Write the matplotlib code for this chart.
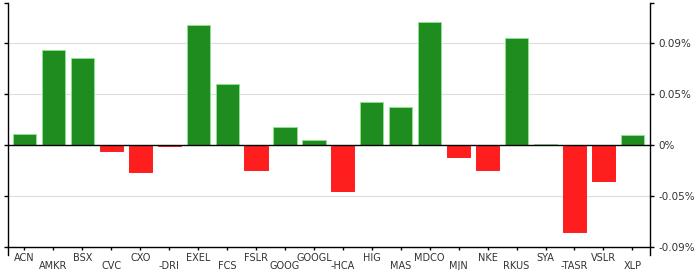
import matplotlib
matplotlib.use("Agg")
import matplotlib.pyplot as plt

tickers = ["ACN", "AMKR", "BSX", "CVC", "CXO", "-DRI", "EXEL", "FCS", "FSLR", "GOOG", "GOOGL",
           "-HCA", "HIG", "MAS", "MDCO", "MJN", "NKE", "RKUS", "SYA", "-TASR", "VSLR", "XLP"]
returns = [0.011, 0.0925, 0.0853, -0.0056, -0.027, -0.0015, 0.117, 0.060, -0.025, 0.018, 0.005,
           -0.0448, 0.0418, 0.0376, 0.120, -0.0118, -0.0242, 0.105, 0.001, -0.0856, -0.035, 0.0095]
ytick_vals = [-0.1, -0.05, 0, 0.05, 0.1]
ytick_labels = ["-0.09%", "-0.05%", "0%", "0.05%", "0.09%"]

green = "#1e8c1e"
red = "#ff1e1e"
text_col = "#333333"

fig = plt.figure(figsize=(7, 2.7), dpi=100)
ax = fig.add_axes([8 / 700, 15 / 270, 642 / 700, 252 / 270])

x = list(range(len(tickers)))
colors = [green if v >= 0 else red for v in returns]
edges = ["#8fe08f" if v >= 0 else red for v in returns]
ax.bar(x, returns, width=0.8, color=colors, edgecolor=edges, linewidth=0.7, zorder=3)

ax.set_xlim(-0.57, 21.61)
ax.set_ylim(-0.1078, 0.139)

for v in ytick_vals:
    if v != 0:
        ax.axhline(v, color="#dddddd", linewidth=0.8, zorder=1)
ax.axhline(0, color="black", linewidth=1.0, zorder=4)

# y axis: ticks on both sides, labels on the right only
ax.set_yticks(ytick_vals + [0.139])
ax.set_yticklabels(ytick_labels + [""])
ax.tick_params(axis="y", left=True, right=True, labelleft=False, labelright=True,
               direction="out", length=3, width=1, pad=3, labelsize=7.5, labelcolor=text_col)

# x axis: labels alternate between two rows
ax.spines["bottom"].set_position(("data", -0.1))
ax.set_xticks(x[0::2])
ax.set_xticklabels(tickers[0::2])
ax.set_xticks(x[1::2], minor=True)
ax.set_xticklabels(tickers[1::2], minor=True)
ax.tick_params(axis="x", which="major", direction="out", length=2, width=1, pad=2,
               labelsize=7, labelcolor=text_col)
ax.tick_params(axis="x", which="minor", direction="out", length=2, width=1, pad=8,
               labelsize=7, labelcolor=text_col)

ax.spines["top"].set_visible(False)
for s in ["left", "right", "bottom"]:
    ax.spines[s].set_linewidth(1)
    ax.spines[s].set_color("black")

fig.savefig("out.png", dpi=100)
